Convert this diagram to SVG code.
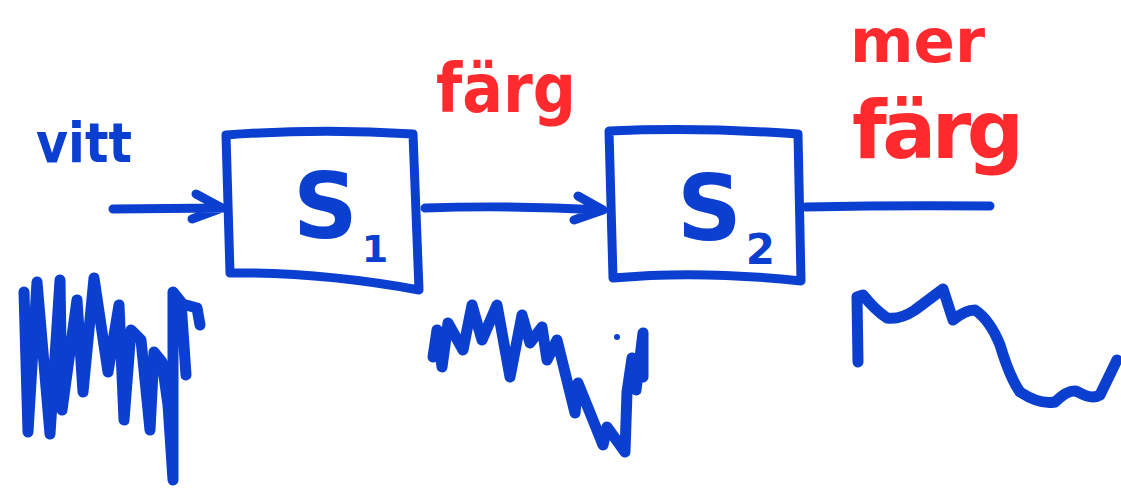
<svg xmlns="http://www.w3.org/2000/svg" width="1121" height="497" viewBox="0 0 1121 497">
<defs>
<style>
.ink{fill:none;stroke:#0b3fd0;stroke-width:9;stroke-linecap:round;stroke-linejoin:round}
.wave{fill:none;stroke:#0b3fd0;stroke-width:11;stroke-linecap:round;stroke-linejoin:round}
.blue{fill:#0b3fd0;font-family:"DejaVu Sans",sans-serif;font-weight:bold}
.red{fill:#ff2a2e;font-family:"DejaVu Sans",sans-serif;font-weight:bold}
.big{fill:#0b3fd0;font-family:"DejaVu Sans",sans-serif;font-weight:bold}
</style>
</defs>
<rect width="1121" height="497" fill="#ffffff"/>
<g id="connectors">
<path class="ink" d="M113,209 L223,208 M196,194 L222,208 L192,219"/>
<path class="ink" d="M425,208 Q510,205 603,210 M578,196 L603,210 L574,220"/>
<path class="ink" d="M806,207 Q900,205 990,206"/>
</g>
<g id="node-s1">
<path class="ink" d="M226,135 Q320,128 413,134 L419,290 Q320,272 230,273 Z"/>
<text class="big" x="293" y="238" font-size="90">S<tspan font-size="38" dx="4" dy="24">1</tspan></text>
</g>
<g id="node-s2">
<path class="ink" d="M609,131 Q700,127 798,134 L801,281 Q700,270 613,278 Z"/>
<text class="big" x="677" y="240" font-size="90">S<tspan font-size="42" dx="4" dy="24">2</tspan></text>
</g>
<g id="label-vitt">
<text class="blue" x="36" y="162" font-size="56" textLength="96" lengthAdjust="spacingAndGlyphs">vitt</text>
</g>
<g id="label-farg1">
<text class="red" x="436" y="112" font-size="68" textLength="140" lengthAdjust="spacingAndGlyphs">färg</text>
</g>
<g id="label-mer-farg">
<text class="red" x="850" y="62" font-size="60" textLength="135" lengthAdjust="spacingAndGlyphs">mer</text>
<text class="red" x="852" y="158" font-size="80" textLength="172" lengthAdjust="spacing">färg</text>
</g>
<g id="wave-white">
<path class="wave" d="M24,292 L28,432 L37,282 L50,434 L60,280 L62,410 L77,300 L83,392 L94,278 L108,372 L119,305 L124,420 L131,330 L141,340 L150,430 L154,352 L162,362 L168,405 L173,480 L173,292 L181,302 L186,375 M186,305 L197,308 L200,325"/>
</g>
<g id="wave-mid">
<path class="wave" d="M433,357 L437,330 L442,367 L448,323 L463,350 L472,305 L482,340 L497,305 L510,377 L522,315 L530,343 L542,327 L547,360 L557,340 L575,413 L578,383 L603,445 L607,427 L625,452 L627,392 L632,358 L636,390 L643,333 L643,377"/>
<circle cx="617" cy="337" r="3" fill="#0b3fd0"/>
</g>
<g id="wave-out">
<path class="wave" d="M858,362 L857,297 L863,295 Q875,310 887,318 Q900,320 915,310 L943,289 L953,320 Q965,310 975,310 Q990,320 1000,345 Q1010,378 1020,392 Q1040,405 1055,402 Q1070,388 1078,392 Q1092,400 1100,395 L1117,360"/>
</g>
</svg>
